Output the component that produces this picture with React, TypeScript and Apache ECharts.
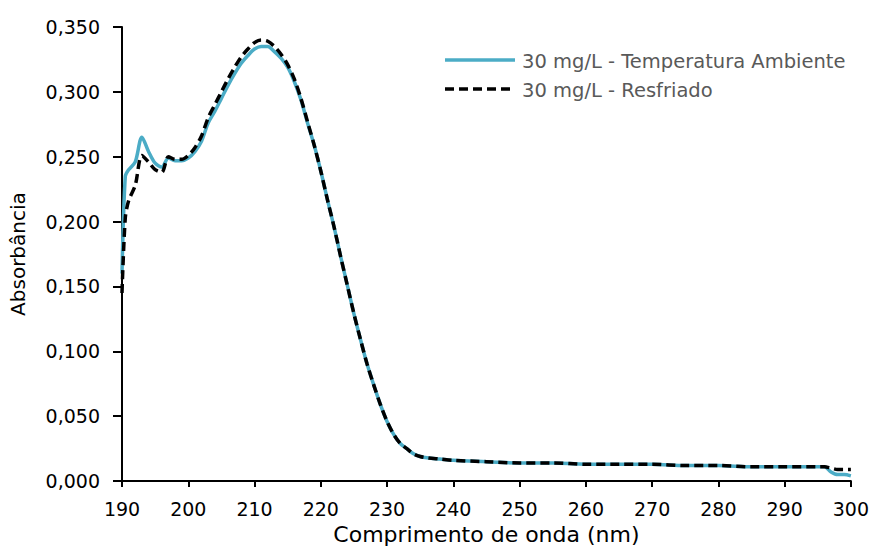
import React, { useEffect, useRef } from "react";
import * as echarts from "echarts";

const wavelengths = [190, 190.5, 191, 192, 193, 194, 195, 196, 197, 198, 199, 200, 201, 202, 203, 204, 205, 206, 207, 208, 209, 210, 211, 212, 213, 214, 215, 216, 217, 218, 219, 220, 221, 222, 223, 224, 225, 226, 227, 228, 229, 230, 231, 232, 233, 234, 235, 236, 238, 240, 245, 250, 255, 260, 265, 270, 275, 280, 285, 290, 295, 296, 297, 298, 299, 300];

const ambiente = [0.160, 0.235, 0.240, 0.246, 0.265, 0.254, 0.245, 0.242, 0.249, 0.247, 0.247, 0.249, 0.254, 0.262, 0.276, 0.285, 0.295, 0.305, 0.314, 0.322, 0.328, 0.333, 0.335, 0.335, 0.331, 0.326, 0.319, 0.308, 0.294, 0.276, 0.259, 0.239, 0.217, 0.196, 0.173, 0.151, 0.129, 0.109, 0.090, 0.074, 0.059, 0.046, 0.036, 0.029, 0.025, 0.021, 0.019, 0.018, 0.017, 0.016, 0.015, 0.014, 0.014, 0.013, 0.013, 0.013, 0.012, 0.012, 0.011, 0.011, 0.011, 0.011, 0.007, 0.005, 0.005, 0.004];

const resfriado = [0.145, 0.203, 0.216, 0.228, 0.251, 0.246, 0.240, 0.238, 0.250, 0.248, 0.248, 0.251, 0.257, 0.266, 0.280, 0.290, 0.300, 0.310, 0.319, 0.327, 0.333, 0.338, 0.340, 0.339, 0.335, 0.329, 0.321, 0.310, 0.295, 0.277, 0.259, 0.239, 0.217, 0.196, 0.173, 0.151, 0.129, 0.109, 0.090, 0.074, 0.059, 0.046, 0.036, 0.029, 0.025, 0.021, 0.019, 0.018, 0.017, 0.016, 0.015, 0.014, 0.014, 0.013, 0.013, 0.013, 0.012, 0.012, 0.011, 0.011, 0.011, 0.011, 0.010, 0.009, 0.009, 0.009];

const seriesNames = ["30 mg/L - Temperatura Ambiente", "30 mg/L - Resfriado"];
const BLUE = "#4BACC6";

export default function App() {
  const ref = useRef<HTMLDivElement>(null);
  useEffect(() => {
    if (!ref.current) return;
    const chart = echarts.init(ref.current, null, { renderer: "svg" });
    const font = "'DejaVu Sans', sans-serif";
    chart.setOption({
      animation: false,
      grid: { left: 122, right: 20, top: 27, bottom: 66, containLabel: false },
      graphic: [
        { type: "line", shape: { x1: 445, y1: 60, x2: 515, y2: 60 }, style: { stroke: BLUE, lineWidth: 3.5 } },
        { type: "text", x: 522, y: 61, style: { text: seriesNames[0], fill: "#595959", font: "19.5px 'DejaVu Sans'", textVerticalAlign: "middle" } },
        { type: "line", shape: { x1: 445, y1: 89, x2: 515, y2: 89 }, style: { stroke: "#000", lineWidth: 3.5, lineDash: [9, 5] } },
        { type: "text", x: 522, y: 90, style: { text: seriesNames[1], fill: "#595959", font: "19.5px 'DejaVu Sans'", textVerticalAlign: "middle" } },
      ],
      xAxis: {
        type: "value",
        min: 190,
        max: 300,
        interval: 10,
        name: "Comprimento de onda (nm)",
        nameLocation: "middle",
        nameGap: 40,
        nameTextStyle: { color: "#000", fontSize: 22, fontFamily: font },
        axisLine: { lineStyle: { color: "#000", width: 2 } },
        axisTick: { show: true, length: 6, lineStyle: { color: "#000", width: 2 } },
        axisLabel: { color: "#000", fontSize: 19, fontFamily: font, margin: 18 },
        splitLine: { show: false },
      },
      yAxis: {
        type: "value",
        min: 0,
        max: 0.35,
        interval: 0.05,
        name: "Absorbância",
        nameLocation: "middle",
        nameGap: 94,
        nameRotate: 90,
        nameTextStyle: { color: "#000", fontSize: 20, fontFamily: font },
        axisLine: { show: true, lineStyle: { color: "#000", width: 2 } },
        axisTick: { show: true, length: 9, lineStyle: { color: "#000", width: 2 } },
        axisLabel: {
          color: "#000",
          fontSize: 19,
          fontFamily: font,
          margin: 22,
          formatter: (v: number) => v.toFixed(3).replace(".", ","),
        },
        splitLine: { show: false },
      },
      series: [
        {
          name: seriesNames[0],
          type: "line",
          data: wavelengths.map((w, i) => [w, ambiente[i]]),
          smooth: 0.3,
          showSymbol: false,
          symbol: "none",
          lineStyle: { color: BLUE, width: 3.5 },
          itemStyle: { color: BLUE },
          z: 2,
        },
        {
          name: seriesNames[1],
          type: "line",
          data: wavelengths.map((w, i) => [w, resfriado[i]]),
          smooth: 0.3,
          showSymbol: false,
          symbol: "none",
          lineStyle: { color: "#000", width: 3.5, type: [9, 5] },
          itemStyle: { color: "#000" },
          z: 3,
        },
      ],
    });
    return () => chart.dispose();
  }, []);
  return <div ref={ref} style={{ width: 872, height: 550, position: "absolute", left: 0, top: 0 }} />;
}
